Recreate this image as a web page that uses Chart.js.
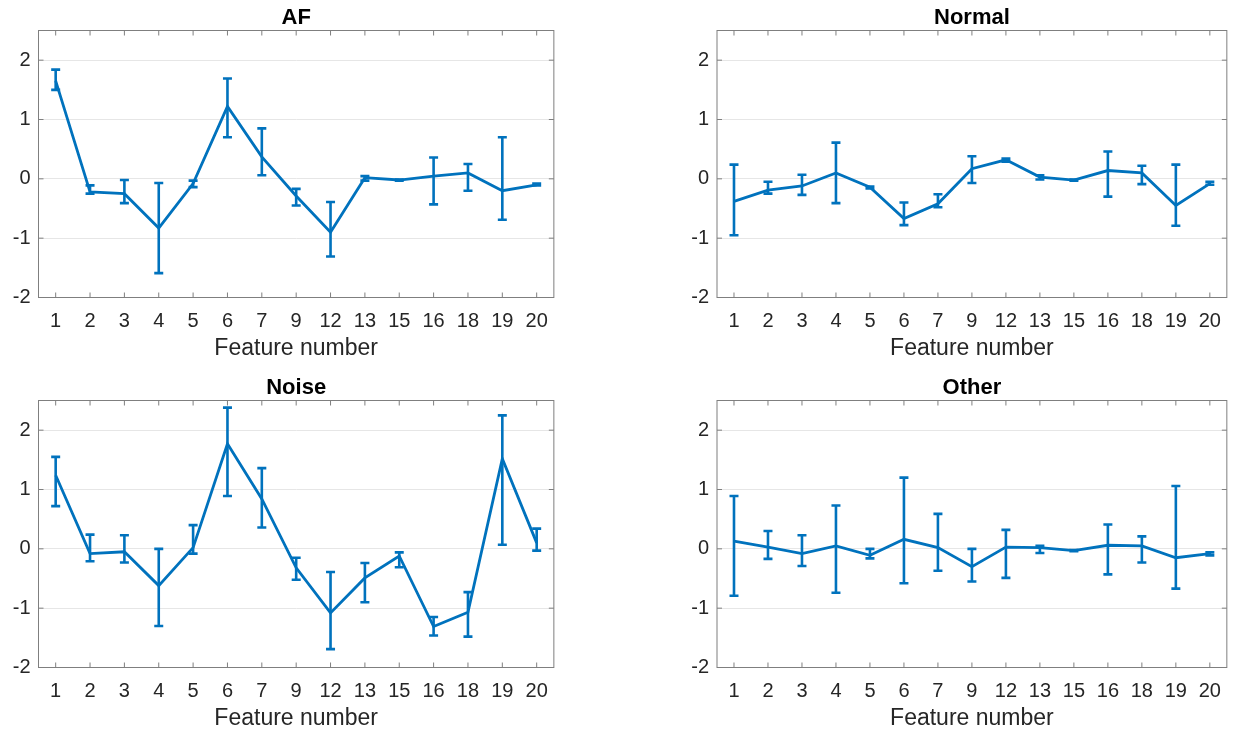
<!DOCTYPE html>
<html>
<head>
<meta charset="utf-8">
<title>Feature error bars</title>
<script src="https://cdn.jsdelivr.net/npm/chart.js@4.4.1/dist/chart.umd.min.js"></script>
<style>
  html, body { margin: 0; padding: 0; background: #fff; overflow: hidden; }
  #page { position: relative; width: 1233px; height: 729px; overflow: hidden; }
  canvas { position: absolute; }
</style>
</head>
<body>
<div id="page">
  <canvas id="af" width="560" height="370" style="left:0;top:0"></canvas>
  <canvas id="normal" width="573" height="370" style="left:660px;top:0"></canvas>
  <canvas id="noise" width="560" height="370" style="left:0;top:370px"></canvas>
  <canvas id="other" width="573" height="370" style="left:660px;top:370px"></canvas>
</div>
<script>
// numéros des features (axe x)
const features = ['1', '2', '3', '4', '5', '6', '7', '9', '12', '13', '15', '16', '18', '19', '20'];
const yTicks = [-2, -1, 0, 1, 2];

// AF
const afMean = [1.65, -0.22, -0.25, -0.83, -0.08, 1.22, 0.37, -0.29, -0.90, 0.02, -0.02, 0.045, 0.10, -0.20, -0.10];
const afLow  = [1.50, -0.25, -0.41, -1.59, -0.14, 0.70, 0.06, -0.45, -1.31, -0.03, -0.03, -0.43, -0.20, -0.69, -0.11];
const afHigh = [1.84, -0.11, -0.02, -0.07, -0.03, 1.69, 0.85, -0.17, -0.39, 0.045, -0.01, 0.36, 0.25, 0.70, -0.08];

// Normal
const normalMean = [-0.38, -0.19, -0.12, 0.10, -0.14, -0.67, -0.42, 0.17, 0.32, 0.03, -0.02, 0.14, 0.10, -0.45, -0.08];
const normalLow  = [-0.95, -0.25, -0.27, -0.41, -0.16, -0.78, -0.48, -0.07, 0.29, -0.01, -0.03, -0.30, -0.09, -0.79, -0.10];
const normalHigh = [0.24, -0.05, 0.07, 0.61, -0.13, -0.40, -0.26, 0.38, 0.34, 0.06, -0.01, 0.46, 0.22, 0.24, -0.05];

// Noise
const noiseMean = [1.24, -0.08, -0.05, -0.62, 0.02, 1.77, 0.84, -0.32, -1.08, -0.49, -0.12, -1.31, -1.07, 1.52, 0.10];
const noiseLow  = [0.72, -0.21, -0.23, -1.30, -0.08, 0.89, 0.36, -0.52, -1.69, -0.90, -0.31, -1.46, -1.48, 0.07, -0.03];
const noiseHigh = [1.55, 0.24, 0.23, 0.00, 0.40, 2.38, 1.36, -0.15, -0.39, -0.24, -0.06, -1.15, -0.73, 2.25, 0.34];

// Other
const otherMean = [0.13, 0.03, -0.08, 0.05, -0.11, 0.16, 0.02, -0.30, 0.03, 0.02, -0.03, 0.06, 0.05, -0.15, -0.08];
const otherLow  = [-0.79, -0.17, -0.29, -0.74, -0.16, -0.58, -0.37, -0.55, -0.49, -0.07, -0.04, -0.43, -0.23, -0.67, -0.11];
const otherHigh = [0.89, 0.30, 0.23, 0.73, 0.00, 1.20, 0.59, 0.00, 0.32, 0.05, -0.02, 0.41, 0.21, 1.06, -0.06];

const blue = '#0072BD';
const axisGray = '#7f7f7f';
const textColor = '#262626';

// barres d'erreur, cadre et ticks à la MATLAB
const matlabPlugin = {
  id: 'matlabAxes',
  afterDatasetsDraw(chart) {
    const ctx = chart.ctx;
    const xs = chart.scales.x, ys = chart.scales.y;
    chart.data.datasets.forEach(ds => {
      ctx.save();
      ctx.strokeStyle = blue;
      ctx.lineWidth = 2.6;
      ds.errLow.forEach((lo, i) => {
        const x = xs.getPixelForValue(i);
        const y1 = ys.getPixelForValue(lo);
        const y2 = ys.getPixelForValue(ds.errHigh[i]);
        ctx.beginPath();
        ctx.moveTo(x, y1); ctx.lineTo(x, y2);
        ctx.moveTo(x - 4.5, y1); ctx.lineTo(x + 4.5, y1);
        ctx.moveTo(x - 4.5, y2); ctx.lineTo(x + 4.5, y2);
        ctx.stroke();
      });
      ctx.restore();
    });
  },
  afterDraw(chart, args, opts) {
    const ctx = chart.ctx;
    const a = chart.chartArea;
    const xs = chart.scales.x, ys = chart.scales.y;
    ctx.save();
    ctx.strokeStyle = axisGray;
    ctx.lineWidth = 1;
    ctx.strokeRect(a.left, a.top, a.right - a.left, a.bottom - a.top);
    ctx.beginPath();
    features.forEach((f, i) => {
      const x = xs.getPixelForValue(i);
      ctx.moveTo(x, a.bottom); ctx.lineTo(x, a.bottom - 5);
      ctx.moveTo(x, a.top); ctx.lineTo(x, a.top + 5);
    });
    yTicks.forEach(v => {
      const y = ys.getPixelForValue(v);
      ctx.moveTo(a.left, y); ctx.lineTo(a.left + 5, y);
      ctx.moveTo(a.right, y); ctx.lineTo(a.right - 5, y);
    });
    ctx.stroke();
    // titre centré sur la zone du graphe
    ctx.fillStyle = '#000';
    ctx.font = 'bold 22px "Liberation Sans", Arial, sans-serif';
    ctx.textAlign = 'center';
    ctx.textBaseline = 'middle';
    ctx.fillText(opts.text, (a.left + a.right) / 2, 18);
    ctx.restore();
  }
};

function makePanel(id, title, mean, low, high, axisWidth, padRight) {
  const ctx = document.getElementById(id).getContext('2d');
  return new Chart(ctx, {
    type: 'line',
    data: {
      labels: features,
      datasets: [{
        data: mean,
        errLow: low,
        errHigh: high,
        borderColor: blue,
        borderWidth: 2.8,
        pointRadius: 0,
        tension: 0,
        fill: false
      }]
    },
    options: {
      responsive: false,
      animation: false,
      layout: { padding: { top: 30.5, right: padRight, left: 0, bottom: 0 } },
      plugins: {
        legend: { display: false },
        tooltip: { enabled: false },
        matlabAxes: { text: title }
      },
      scales: {
        x: {
          type: 'category',
          offset: true,
          grid: { display: false, drawTicks: false },
          border: { display: false },
          ticks: {
            color: textColor,
            padding: 12,
            maxRotation: 0,
            autoSkip: false,
            font: { family: '"Liberation Sans", Arial, sans-serif', size: 20 }
          },
          title: {
            display: true,
            text: 'Feature number',
            color: textColor,
            padding: { top: 0, bottom: 8 },
            font: { family: '"Liberation Sans", Arial, sans-serif', size: 23 }
          },
          afterFit(scale) { scale.height = 72.5; }
        },
        y: {
          min: -2,
          max: 2.5,
          grid: { color: '#e6e6e6', lineWidth: 1, drawTicks: false },
          border: { display: false },
          ticks: {
            stepSize: 1,
            includeBounds: false,
            color: textColor,
            padding: 8,
            font: { family: '"Liberation Sans", Arial, sans-serif', size: 20 }
          },
          afterFit(scale) { scale.width = axisWidth; }
        }
      }
    },
    plugins: [matlabPlugin]
  });
}

makePanel('af', 'AF', afMean, afLow, afHigh, 38.5, 6);
makePanel('normal', 'Normal', normalMean, normalLow, normalHigh, 57, 1);
makePanel('noise', 'Noise', noiseMean, noiseLow, noiseHigh, 38.5, 6);
makePanel('other', 'Other', otherMean, otherLow, otherHigh, 57, 1);
</script>
</body>
</html>
